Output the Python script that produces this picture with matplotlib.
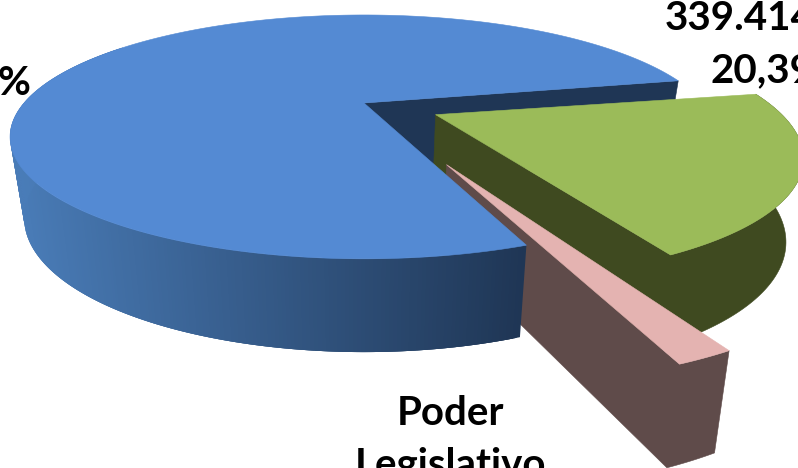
import numpy as np
import matplotlib
matplotlib.use("Agg")
import matplotlib.pyplot as plt
from matplotlib.patches import Polygon

categories = ["Poder Executivo", "Poder Judiciário", "Poder Legislativo"]
shares = [77.40, 20.39, 1.78]
explode = [0.0, 0.228, 0.52]
radius = [1.0, 0.99, 1.0]
starts_clockwise = [159.3, 79.5, 152.9]   # slice starts, clockwise from the back of the pie

top_colors = ["#548AD3", "#9BBB59", "#E4B3B1"]
wall_colors = ["#1F3655", "#3F4A20", "#5F4B4A"]
blue_wall_left, blue_wall_right = "#4A7DB9", "#1F3655"

W, H = 798, 468
cx, cy = 364.0, 103.0
a, b, p = 340.0, 112.5, 0.278
bx, by_scale, by_off = 0.96, 1.098, 78.0


def top(X, Y):
    w = 1 + p * np.asarray(Y)
    return cx + a * np.asarray(X) / w, cy - b * np.asarray(Y) / w


def bottom(X, Y):
    x, y = top(X, Y)
    return cx + bx * (x - cx), cy + by_scale * (y - cy) + by_off


def rim(t0, t1, ox, oy, r=1.0, n=120):
    t = np.radians(np.linspace(t0, t1, n))
    return ox + r * np.sin(t), oy + r * np.cos(t)


fig = plt.figure(figsize=(W / 100, H / 100), dpi=100)
ax = fig.add_axes([0, 0, 1, 1])
ax.set_xlim(0, W)
ax.set_ylim(H, 0)
ax.axis("off")


def poly(xs, ys, color, z, lw=0.4):
    ax.add_patch(Polygon(np.column_stack([xs, ys]), closed=True, fc=color, ec=color,
                         lw=lw, zorder=z))


spans = [(s, s + v * 3.6) for s, v in zip(starts_clockwise, shares)]

# blue: cut wall seen at the back right
t_end = spans[0][1]
rx, ry = rim(t_end, t_end, 0.0, 0.0, n=2)
tx0, ty0 = top(0.0, 0.0)
tx1, ty1 = top(rx[0], ry[0])
bx0, by0 = bottom(0.0, 0.0)
bx1, by1 = bottom(rx[0], ry[0])
poly([tx0, tx1, bx1, bx0], [ty0, ty1, by1, by0], wall_colors[0], 1)

# green and pink slices
for i, z in ((1, 2), (2, 3)):
    t0, t1 = spans[i]
    mid = np.radians((t0 + t1) / 2)
    ox, oy = explode[i] * np.sin(mid), explode[i] * np.cos(mid)
    X, Y = rim(t0, t1, ox, oy, radius[i])
    ax0, ay0 = top(ox, oy)
    bx0, by0 = bottom(ox, oy)
    tx, ty = top(X, Y)
    ux, uy = bottom(X, Y)
    # cut wall and outer wall as one shape
    poly(np.r_[ax0, tx[-1], tx[::-1], ux, bx0], np.r_[ay0, ty[-1], ty[::-1], uy, by0],
         wall_colors[i], z)
    # top face
    poly(np.r_[ax0, tx], np.r_[ay0, ty], top_colors[i], z + 0.5)

# blue outer wall with horizontal shading; each band runs under the next to hide seams
c0 = np.array(matplotlib.colors.to_rgb(blue_wall_left))
c1 = np.array(matplotlib.colors.to_rgb(blue_wall_right))
edges = np.arange(spans[0][0], 305, 0.5)
for k, t_a in enumerate(edges[:-3]):
    X, Y = rim(t_a, t_a + 1.5, 0.0, 0.0, n=4)
    tx, ty = top(X, Y)
    ux, uy = bottom(X, Y)
    f = np.clip((ux[0] - 20) / 500, 0, 1)
    col = tuple(c0 + (c1 - c0) * f)
    poly(np.r_[tx, ux[::-1]], np.r_[ty, uy[::-1]], col, 4 + k * 1e-4, lw=0)

# blue top face
X, Y = rim(spans[0][0], spans[0][1], 0.0, 0.0, n=400)
tx, ty = top(X, Y)
ax0, ay0 = top(0.0, 0.0)
poly(np.r_[ax0, tx], np.r_[ay0, ty], top_colors[0], 5)

# labels (cut by the edges of the picture, as in the reference)
font = dict(family="Lato", fontweight="bold", fontsize=29, color="black", zorder=6)
ax.text(665, 30, "339.414", ha="left", va="baseline", **font)
ax.text(710, 82, "20,39%", ha="left", va="baseline", **font)
ax.text(30, 95, "%", ha="right", va="baseline", **font)
ax.text(451, 425, "Poder", ha="center", va="baseline", **font)
ax.text(451, 477, "Legislativo", ha="center", va="baseline", **font)

fig.savefig("out.png", dpi=100)
